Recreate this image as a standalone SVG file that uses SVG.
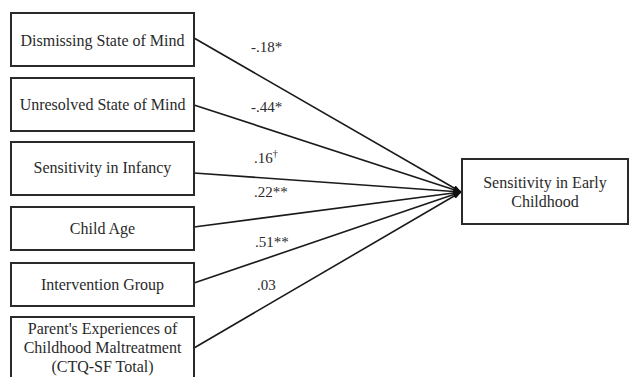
<svg xmlns="http://www.w3.org/2000/svg" width="632" height="377" viewBox="0 0 632 377">
<style>
.box{fill:#fff;stroke:#2a2a2a;stroke-width:2}
.t{font-family:'Liberation Serif','DejaVu Serif','Times New Roman',serif;font-size:16px;fill:#2a2a2a;text-anchor:middle}
.lb{font-family:'Liberation Serif','DejaVu Serif','Times New Roman',serif;font-size:15px;fill:#2a2a2a}
.c{stroke:#1a1a1a;stroke-width:1.6;fill:none;marker-end:url(#ah)}
</style>
<defs>
<marker id="ah" markerWidth="9" markerHeight="8" refX="8" refY="4" orient="auto" markerUnits="userSpaceOnUse">
<path d="M0,1 L9,4 L0,7 Z" fill="#111"/>
</marker>
</defs>
<rect width="632" height="377" fill="#fff"/>
<g id="connectors">
<line class="c" x1="194" y1="38" x2="461" y2="192"/>
<line class="c" x1="194" y1="105" x2="461" y2="192"/>
<line class="c" x1="194" y1="173" x2="461" y2="192"/>
<line class="c" x1="194" y1="227" x2="461" y2="192"/>
<line class="c" x1="194" y1="283" x2="461" y2="192"/>
<line class="c" x1="194" y1="348" x2="461" y2="192"/>
<text class="lb" x="251" y="52">-.18*</text>
<text class="lb" x="251" y="112">-.44*</text>
<text class="lb" x="254" y="163">.16<tspan font-size="10" dy="-6">†</tspan></text>
<text class="lb" x="254" y="197">.22**</text>
<text class="lb" x="255" y="247">.51**</text>
<text class="lb" x="257" y="290">.03</text>
</g>
<g id="n1"><rect class="box" x="11" y="13" width="183" height="53"/><text class="t" x="102.5" y="46">Dismissing State of Mind</text></g>
<g id="n2"><rect class="box" x="11" y="78" width="183" height="53"/><text class="t" x="102.5" y="110">Unresolved State of Mind</text></g>
<g id="n3"><rect class="box" x="11" y="142" width="183" height="53"/><text class="t" x="102.5" y="173">Sensitivity in Infancy</text></g>
<g id="n4"><rect class="box" x="11" y="207" width="183" height="43"/><text class="t" x="102.5" y="234">Child Age</text></g>
<g id="n5"><rect class="box" x="11" y="263" width="183" height="43"/><text class="t" x="102.5" y="290">Intervention Group</text></g>
<g id="n6"><rect class="box" x="11" y="317" width="183" height="70"/><text class="t" x="102.5" y="334">Parent's Experiences of</text><text class="t" x="102.5" y="353">Childhood Maltreatment</text><text class="t" x="102.5" y="372">(CTQ-SF Total)</text></g>
<g id="n7"><rect class="box" x="462" y="159" width="166" height="65"/><text class="t" x="545" y="188">Sensitivity in Early</text><text class="t" x="545" y="207">Childhood</text></g>
</svg>
